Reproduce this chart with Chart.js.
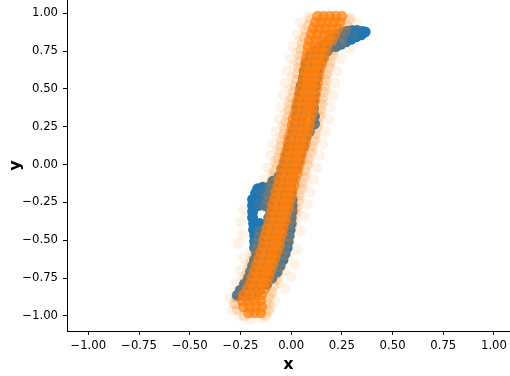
<!DOCTYPE html>
<html><head><meta charset="utf-8">
<script src="https://cdn.jsdelivr.net/npm/chart.js@4"></script>
<style>html,body{margin:0;padding:0;background:#fff;overflow:hidden}</style>
</head><body>
<canvas id="c" width="510" height="376"></canvas>
<script>
const xTicks = [-1, -0.75, -0.5, -0.25, 0, 0.25, 0.5, 0.75, 1];
const yTicks = [-1, -0.75, -0.5, -0.25, 0, 0.25, 0.5, 0.75, 1];

// blue series: [x, y]
const bluePoints = [
[0.365,0.877],[0.35,0.880],[0.345,0.858],[0.325,0.886],[0.32,0.845],[0.30,0.887],[0.295,0.828],
[0.275,0.882],[0.27,0.812],[0.25,0.870],[0.245,0.795],[0.225,0.855],[0.22,0.780],[0.205,0.838],
[0.205,0.795],[0.185,0.815],[0.19,0.772],[0.165,0.792],[0.175,0.748],[0.15,0.765],[0.16,0.722],
[0.135,0.738],[0.115,0.75],[0.15,0.695],[0.12,0.71],[0.095,0.72],[0.34,0.872],[0.29,0.855],[0.26,0.84],
[0.075,0.67],[0.105,0.67],[0.14,0.67],
[0.065,0.62],[0.10,0.62],[0.13,0.62],
[0.06,0.57],[0.09,0.57],[0.125,0.57],
[0.05,0.52],[0.085,0.52],[0.12,0.52],
[0.045,0.47],[0.08,0.47],[0.115,0.47],
[0.04,0.42],[0.075,0.42],[0.11,0.42],
[0.03,0.37],[0.065,0.37],[0.11,0.37],
[0.025,0.32],[0.06,0.32],[0.115,0.32],
[0.02,0.27],[0.055,0.27],[0.115,0.27],
[0.01,0.22],[0.045,0.22],[0.09,0.22],
[0.0,0.17],[0.035,0.17],[0.07,0.17],
[-0.01,0.12],[0.025,0.12],[0.06,0.12],
[-0.02,0.07],[0.015,0.07],[0.045,0.07],
[-0.03,0.02],[0.005,0.02],[0.035,0.02],
[-0.045,-0.03],[-0.01,-0.03],[0.025,-0.03],
[-0.06,-0.08],[-0.025,-0.08],[0.01,-0.08],
[-0.09,-0.11],[-0.055,-0.11],[-0.02,-0.11],[0.005,-0.11],
[-0.165,-0.16],[-0.14,-0.15],[-0.11,-0.15],[-0.08,-0.15],[-0.05,-0.15],[-0.02,-0.15],[0.0,-0.15],
[-0.175,-0.19],[-0.145,-0.19],[-0.115,-0.19],[-0.085,-0.19],[-0.055,-0.19],[-0.025,-0.19],[0.0,-0.19],
[-0.19,-0.23],[-0.16,-0.23],[-0.13,-0.23],[-0.10,-0.23],[-0.07,-0.23],[-0.04,-0.23],[-0.01,-0.23],[0.005,-0.23],
[-0.19,-0.27],[-0.16,-0.27],[-0.13,-0.27],[-0.10,-0.27],[-0.07,-0.27],[-0.04,-0.27],[-0.01,-0.27],[0.005,-0.27],
[-0.19,-0.31],[-0.10,-0.31],[-0.07,-0.31],[-0.04,-0.31],[-0.01,-0.31],[0.005,-0.31],
[-0.19,-0.35],[-0.11,-0.35],[-0.08,-0.35],[-0.05,-0.35],[-0.02,-0.35],[0.0,-0.35],
[-0.185,-0.39],[-0.155,-0.39],[-0.12,-0.39],[-0.09,-0.39],[-0.06,-0.39],[-0.03,-0.39],[0.0,-0.39],
[-0.185,-0.43],[-0.155,-0.43],[-0.125,-0.43],[-0.095,-0.43],[-0.065,-0.43],[-0.035,-0.43],[-0.005,-0.43],
[-0.18,-0.47],[-0.15,-0.47],[-0.12,-0.47],[-0.09,-0.47],[-0.06,-0.47],[-0.03,-0.47],[-0.01,-0.47],
[-0.18,-0.51],[-0.15,-0.51],[-0.12,-0.51],[-0.09,-0.51],[-0.06,-0.51],[-0.035,-0.51],[-0.015,-0.51],
[-0.18,-0.55],[-0.15,-0.55],[-0.12,-0.55],[-0.09,-0.55],[-0.06,-0.55],[-0.04,-0.55],[-0.02,-0.55],
[-0.17,-0.59],[-0.14,-0.59],[-0.11,-0.59],[-0.08,-0.59],[-0.055,-0.59],[-0.03,-0.59],
[-0.18,-0.63],[-0.15,-0.63],[-0.12,-0.63],[-0.09,-0.63],[-0.065,-0.63],[-0.04,-0.63],
[-0.19,-0.67],[-0.16,-0.67],[-0.13,-0.67],[-0.10,-0.67],[-0.075,-0.67],[-0.055,-0.67],
[-0.20,-0.71],[-0.17,-0.71],[-0.14,-0.71],[-0.11,-0.71],[-0.085,-0.71],[-0.07,-0.71],
[-0.21,-0.75],[-0.18,-0.75],[-0.15,-0.75],[-0.12,-0.75],[-0.095,-0.75],
[-0.23,-0.79],[-0.20,-0.79],[-0.17,-0.79],[-0.14,-0.79],[-0.12,-0.79],
[-0.25,-0.83],[-0.22,-0.83],[-0.19,-0.83],[-0.16,-0.83],
[-0.265,-0.865],[-0.235,-0.865],[-0.205,-0.865],[-0.18,-0.86]
];

// orange series, dense middle: [x, y]
const orangeCore = [
[0.13,0.98],[0.16,0.98],[0.19,0.98],[0.22,0.98],[0.25,0.98],
[0.12,0.94],[0.15,0.94],[0.18,0.94],[0.21,0.94],[0.24,0.94],
[0.11,0.90],[0.14,0.90],[0.17,0.90],[0.20,0.90],[0.23,0.90],
[0.10,0.86],[0.13,0.86],[0.16,0.86],[0.19,0.86],[0.215,0.86],
[0.09,0.82],[0.12,0.82],[0.15,0.82],[0.18,0.82],[0.20,0.82],
[0.085,0.78],[0.115,0.78],[0.145,0.78],[0.175,0.78],
[0.08,0.74],[0.11,0.74],[0.14,0.74],[0.165,0.74],
[0.075,0.70],[0.105,0.70],[0.135,0.70],[0.16,0.70],
[0.07,0.66],[0.10,0.66],[0.125,0.66],[0.15,0.66],
[0.065,0.62],[0.09,0.62],[0.115,0.62],[0.14,0.62],
[0.06,0.58],[0.085,0.58],[0.11,0.58],[0.135,0.58],
[0.055,0.54],[0.08,0.54],[0.105,0.54],[0.13,0.54],
[0.045,0.50],[0.075,0.50],[0.10,0.50],[0.125,0.50],
[0.04,0.46],[0.07,0.46],[0.095,0.46],[0.12,0.46],
[0.03,0.42],[0.06,0.42],[0.09,0.42],[0.115,0.42],
[0.025,0.38],[0.055,0.38],[0.085,0.38],[0.11,0.38],
[0.02,0.34],[0.05,0.34],[0.08,0.34],[0.105,0.34],
[0.01,0.30],[0.04,0.30],[0.07,0.30],[0.095,0.30],
[0.005,0.26],[0.035,0.26],[0.065,0.26],[0.09,0.26],
[0.0,0.22],[0.03,0.22],[0.06,0.22],[0.085,0.22],
[-0.01,0.18],[0.02,0.18],[0.05,0.18],[0.075,0.18],
[-0.015,0.14],[0.015,0.14],[0.045,0.14],[0.07,0.14],
[-0.02,0.10],[0.01,0.10],[0.04,0.10],[0.06,0.10],
[-0.03,0.06],[0.0,0.06],[0.03,0.06],[0.05,0.06],
[-0.035,0.02],[-0.005,0.02],[0.025,0.02],[0.045,0.02],
[-0.045,-0.02],[-0.015,-0.02],[0.015,-0.02],[0.035,-0.02],
[-0.05,-0.06],[-0.02,-0.06],[0.01,-0.06],[0.03,-0.06],
[-0.06,-0.10],[-0.03,-0.10],[0.0,-0.10],[0.02,-0.10],
[-0.065,-0.14],[-0.035,-0.14],[-0.005,-0.14],[0.015,-0.14],
[-0.075,-0.18],[-0.045,-0.18],[-0.015,-0.18],[0.005,-0.18],
[-0.08,-0.22],[-0.05,-0.22],[-0.02,-0.22],[0.0,-0.22],
[-0.09,-0.26],[-0.06,-0.26],[-0.03,-0.26],[-0.01,-0.26],
[-0.095,-0.30],[-0.065,-0.30],[-0.035,-0.30],[-0.015,-0.30],
[-0.105,-0.34],[-0.075,-0.34],[-0.045,-0.34],[-0.025,-0.34],
[-0.11,-0.38],[-0.08,-0.38],[-0.05,-0.38],[-0.03,-0.38],
[-0.12,-0.42],[-0.09,-0.42],[-0.06,-0.42],[-0.04,-0.42],
[-0.125,-0.46],[-0.095,-0.46],[-0.065,-0.46],[-0.045,-0.46],
[-0.135,-0.50],[-0.105,-0.50],[-0.075,-0.50],[-0.055,-0.50],
[-0.14,-0.54],[-0.11,-0.54],[-0.08,-0.54],[-0.06,-0.54],
[-0.15,-0.58],[-0.12,-0.58],[-0.09,-0.58],[-0.07,-0.58],
[-0.16,-0.62],[-0.13,-0.62],[-0.10,-0.62],[-0.08,-0.62],
[-0.17,-0.66],[-0.14,-0.66],[-0.11,-0.66],[-0.09,-0.66],
[-0.18,-0.70],[-0.15,-0.70],[-0.12,-0.70],[-0.10,-0.70],
[-0.19,-0.74],[-0.16,-0.74],[-0.13,-0.74],[-0.11,-0.74],
[-0.20,-0.78],[-0.17,-0.78],[-0.14,-0.78],[-0.12,-0.78],
[-0.215,-0.82],[-0.185,-0.82],[-0.155,-0.82],[-0.13,-0.82],
[-0.235,-0.86],[-0.205,-0.86],[-0.175,-0.86],[-0.145,-0.86],
[-0.24,-0.90],[-0.21,-0.90],[-0.18,-0.90],[-0.15,-0.90],
[-0.235,-0.94],[-0.205,-0.94],[-0.175,-0.94],[-0.145,-0.94],
[-0.21,-0.98],[-0.18,-0.98],[-0.15,-0.98]
];

// orange series, points along the edge of the dense part: [x, y]
const orangeEdge = [
[0.095,0.96],[0.285,0.96],[0.085,0.92],[0.275,0.92],[0.075,0.88],[0.265,0.88],
[0.065,0.84],[0.255,0.84],[0.055,0.80],[0.24,0.80],[0.05,0.76],[0.21,0.76],
[0.045,0.72],[0.20,0.72],[0.04,0.68],[0.195,0.68],[0.035,0.64],[0.185,0.64],
[0.03,0.60],[0.175,0.60],[0.025,0.56],[0.17,0.56],[0.02,0.52],[0.165,0.52],
[0.01,0.48],[0.16,0.48],[0.005,0.44],[0.155,0.44],[-0.005,0.40],[0.15,0.40],
[-0.01,0.36],[0.145,0.36],[-0.015,0.32],[0.14,0.32],[-0.025,0.28],[0.13,0.28],
[-0.03,0.24],[0.125,0.24],[-0.035,0.20],[0.12,0.20],[-0.045,0.16],[0.11,0.16],
[-0.05,0.12],[0.105,0.12],[-0.055,0.08],[0.095,0.08],[-0.065,0.04],[0.085,0.04],
[-0.07,0.0],[0.08,0.0],[-0.08,-0.04],[0.07,-0.04],[-0.085,-0.08],[0.065,-0.08],
[-0.095,-0.12],[0.055,-0.12],[-0.10,-0.16],[0.05,-0.16],[-0.11,-0.20],[0.04,-0.20],
[-0.115,-0.24],[0.035,-0.24],[-0.125,-0.28],[0.025,-0.28],[0.02,-0.32],[0.01,-0.36],
[0.005,-0.40],[-0.155,-0.44],[-0.005,-0.44],[-0.16,-0.48],[-0.01,-0.48],
[-0.17,-0.52],[-0.02,-0.52],[-0.175,-0.56],[-0.025,-0.56],[-0.185,-0.60],[-0.035,-0.60],
[-0.195,-0.64],[-0.045,-0.64],[-0.205,-0.68],[-0.055,-0.68],[-0.215,-0.72],[-0.065,-0.72],
[-0.225,-0.76],[-0.075,-0.76],[-0.235,-0.80],[-0.085,-0.80],[-0.25,-0.84],[-0.095,-0.84],
[-0.27,-0.88],[-0.11,-0.88],[-0.275,-0.92],[-0.115,-0.92],[-0.265,-0.96],[-0.11,-0.96],
[-0.23,-1.0],[-0.125,-1.0]
];

// orange series, sparse outer points: [x, y]
const orangeHalo = [
[0.085,0.98],[0.045,0.94],[0.295,0.97],[0.325,0.93],
[0.065,0.90],[0.03,0.86],[0.275,0.90],[0.31,0.86],
[0.045,0.82],[0.01,0.78],[0.255,0.81],[0.29,0.77],
[0.03,0.74],[-0.005,0.70],[0.21,0.74],[0.245,0.70],
[0.015,0.66],[-0.02,0.62],[0.19,0.66],[0.225,0.62],
[0.005,0.58],[-0.03,0.54],[0.18,0.58],[0.215,0.54],
[-0.005,0.50],[-0.04,0.46],[0.17,0.50],[0.205,0.46],
[-0.015,0.42],[-0.05,0.38],[0.16,0.42],[0.195,0.38],
[-0.025,0.34],[-0.06,0.30],[0.15,0.34],[0.185,0.30],
[-0.04,0.26],[-0.075,0.22],[0.135,0.26],[0.17,0.22],
[-0.055,0.18],[-0.09,0.14],[0.12,0.18],[0.155,0.14],
[-0.065,0.10],[-0.10,0.06],[0.105,0.10],[0.14,0.06],
[-0.08,0.02],[-0.115,-0.02],[0.09,0.02],[0.125,-0.02],
[-0.095,-0.06],[-0.13,-0.10],[0.075,-0.06],[0.11,-0.10],
[-0.11,-0.14],[-0.145,-0.18],[0.06,-0.14],[0.095,-0.18],
[-0.125,-0.22],[-0.16,-0.26],[0.045,-0.22],[0.08,-0.26],
[-0.235,-0.30],[-0.25,-0.38],[0.03,-0.30],[0.065,-0.34],
[-0.24,-0.46],[-0.26,-0.52],[0.015,-0.38],[0.045,-0.44],
[0.0,-0.50],[0.03,-0.56],[-0.015,-0.60],[0.015,-0.66],
[-0.20,-0.58],[-0.235,-0.62],[-0.215,-0.66],[-0.25,-0.70],
[-0.235,-0.74],[-0.27,-0.78],[-0.035,-0.70],[0.0,-0.74],
[-0.06,-0.78],[-0.03,-0.82],[-0.27,-0.84],[-0.30,-0.88],
[-0.28,-0.92],[-0.29,-0.96],[-0.10,-0.86],[-0.08,-0.90],
[-0.10,-0.94],[-0.12,-0.98],[-0.25,-1.00],[-0.20,-1.02],[-0.15,-1.01]
];

const toXY = arr => arr.map(p => ({x: p[0], y: p[1]}));
const fmt = v => (v < 0 ? '\u2212' : '') + Math.abs(v).toFixed(2);
const tickFont = {family: 'DejaVu Sans', size: 11.7};
const titleFont = {family: 'DejaVu Sans', size: 16, weight: 'bold'};

new Chart(document.getElementById('c'), {
  type: 'scatter',
  data: {datasets: [
    {label: 'halo', data: toXY(orangeHalo), backgroundColor: 'rgba(255,127,14,0.10)', borderWidth: 0, pointRadius: 5.5, order: 0},
    {label: 'edge', data: toXY(orangeEdge), backgroundColor: 'rgba(255,127,14,0.2)', borderWidth: 0, pointRadius: 5.5, order: 1},
    {label: 'core', data: toXY(orangeCore), backgroundColor: 'rgba(255,127,14,0.72)', borderWidth: 0, pointRadius: 5.5, order: 2},
    {label: 'blue', data: toXY(bluePoints), backgroundColor: '#1f77b4', borderWidth: 0, pointRadius: 5.5, order: 3}
  ]},
  options: {
    responsive: false, animation: false, devicePixelRatio: 1, events: [],
    layout: {padding: 0, autoPadding: false},
    plugins: {legend: {display: false}, tooltip: {enabled: false}},
    scales: {
      x: {
        type: 'linear', min: -1.105, max: 1.079,
        afterBuildTicks: s => { s.ticks = xTicks.map(v => ({value: v})); },
        afterFit: s => { s.height = 45; s.paddingLeft = 0; s.paddingRight = 0; },
        grid: {display: true, drawOnChartArea: false, drawTicks: true, tickLength: 4, tickColor: '#000', tickWidth: 1},
        border: {display: true, color: '#000', width: 1},
        ticks: {font: tickFont, color: '#000', padding: 4, callback: fmt, maxRotation: 0, autoSkip: false},
        title: {display: true, text: 'x', font: titleFont, color: '#000', padding: {top: 0, bottom: 2}}
      },
      y: {
        type: 'linear', min: -1.1, max: 1.088,
        afterBuildTicks: s => { s.ticks = yTicks.map(v => ({value: v})); },
        afterFit: s => { s.width = 67; s.paddingTop = 0; s.paddingBottom = 0; },
        grid: {display: true, drawOnChartArea: false, drawTicks: true, tickLength: 4, tickColor: '#000', tickWidth: 1},
        border: {display: true, color: '#000', width: 1},
        ticks: {font: tickFont, color: '#000', padding: 5, callback: fmt, autoSkip: false},
        title: {display: true, text: 'y', font: titleFont, color: '#000', padding: {top: 6, bottom: 0}}
      }
    }
  }
});
</script>
</body></html>
